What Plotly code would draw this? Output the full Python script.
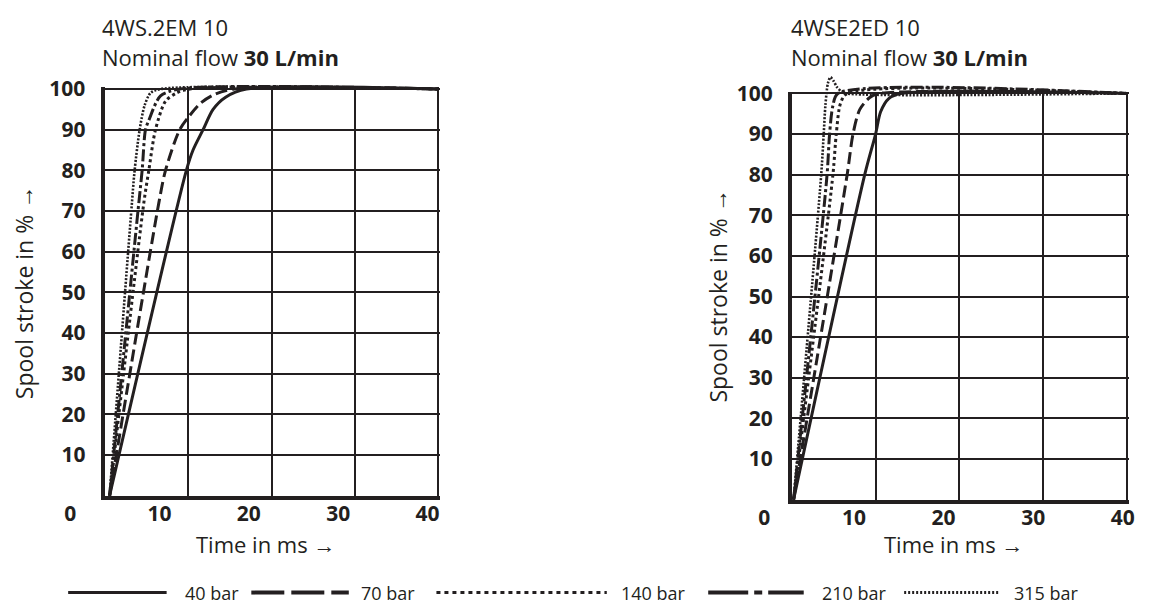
import plotly.graph_objects as go

W, H = 1176, 610
OFF = 8  # default page margin of the html body
INK = "#231f20"
FONT = "Open Sans"

series = ["40 bar", "70 bar", "140 bar", "210 bar", "315 bar"]
x_ticks = [0, 10, 20, 30, 40]
y_ticks = [10, 20, 30, 40, 50, 60, 70, 80, 90, 100]

# 4WS.2EM 10 (left chart): time in ms -> spool stroke in %
l40_t = [0.6, 9.8, 10.6, 11.8, 13.0, 14.5, 17.0, 40.0]
l40_y = [0, 80, 85, 90, 95, 98, 100, 100]
l70_t = [0.6, 6.5, 7.3, 9.0, 10.2, 11.5, 13.0, 15.5, 40.0]
l70_y = [0, 72, 80, 90, 93.5, 96.5, 98.5, 100, 100]
l140_t = [0.6, 4.7, 5.3, 6.1, 7.3, 8.6, 10.2, 40.0]
l140_y = [0, 72, 80, 90, 97, 99, 100, 100]
l210_t = [0.6, 4.0, 4.5, 4.9, 5.3, 6.7, 9.0, 40.0]
l210_y = [0, 70, 80, 90, 92.3, 98.3, 100, 100]
l315_t = [0.6, 3.2, 3.6, 4.2, 4.8, 5.5, 6.7, 40.0]
l315_y = [0, 70, 80, 90, 96, 99, 100, 100]

# 4WSE2ED 10 (right chart)
r40_t = [0.2, 8.7, 10.0, 10.6, 11.6, 13.0, 40.0]
r40_y = [0, 80, 90, 95.5, 98.8, 100, 100]
r70_t = [0.2, 6.6, 7.3, 8.1, 9.3, 10.5, 40.0]
r70_y = [0, 80, 90, 96, 99, 100, 100]
r140_t = [0.2, 4.9, 5.3, 5.8, 6.6, 40.0]
r140_y = [0, 80, 90, 97.5, 100, 100]
r210_t = [0.2, 4.2, 4.5, 4.9, 5.5, 40.0]
r210_y = [0, 80, 90, 97, 100, 100]
r315_t = [0.2, 3.5, 3.8, 4.0, 4.3, 4.6, 5.0, 5.4, 5.9, 6.5, 40.0]
r315_y = [0, 80, 90, 97, 102.5, 104, 103, 101.5, 100.5, 100, 100]

left_data = [(l40_t, l40_y), (l70_t, l70_y), (l140_t, l140_y), (l210_t, l210_y), (l315_t, l315_y)]
right_data = [(r40_t, r40_y), (r70_t, r70_y), (r140_t, r140_y), (r210_t, r210_y), (r315_t, r315_y)]

# ---- styles ----
chart_dash = ["solid", "12px,5px", "3px,3px", "12px,3px,3px,3px", "2px,1.6px"]
chart_width = [3, 3, 3, 3, 2.6]
legend_dash = ["solid", "33px,7px", "4px,4px", "40px,6px,8px,6px", "2px,2px"]
legend_width = [3, 4, 3, 4, 3]
legend_line_px = [(63, 163), (249, 348), (437, 610), (713, 810), (912, 1008)]
legend_text_px = [180, 358, 622, 827, 1022]
legend_y_px = 592

# chart geometry in target pixels (pixel of value 0, pixels per unit)
charts = [
    dict(x0=100, xp=8.475, y0=493, yp=4.155, lab0=65, lab1=428,
         title="4WS.2EM 10", tx=95, ytx=18, data=left_data),
    dict(x0=798, xp=8.5, y0=497, yp=4.15, lab0=770, lab1=1134,
         title="4WSE2ED 10", tx=795, ytx=722, data=right_data),
]


def px(x):
    return (x - OFF) / W


def py(y):
    return 1 - (y - OFF) / H


def xdom(x0, xp, r):
    return [px(x0 + r[0] * xp), px(x0 + r[1] * xp)]


def ydom(y0, yp, r):
    return [py(y0 - r[0] * yp), py(y0 - r[1] * yp)]


def sid(n):
    return "" if n == 1 else str(n)


fig = go.Figure()
layout = {}
annotations = []
shapes = []

GRID_X = [0, 40.25]
GRID_Y = [0, 100.45]
CURVE_X = [-1.0, 41.5]
CURVE_Y = [-2.0, 108.0]
TICKFONT = dict(family=FONT, size=21, color=INK, weight="bold")

n = 1
for i, c in enumerate(charts):
    g, cv, lb = sid(n), sid(n + 1), sid(n + 2)
    n += 3

    layout["xaxis" + g] = dict(domain=xdom(c["x0"], c["xp"], GRID_X), range=GRID_X, anchor="y" + g,
                               tickvals=x_ticks, showticklabels=False, ticks="",
                               showgrid=True, gridcolor=INK, gridwidth=1.6,
                               showline=True, linecolor=INK, linewidth=4, zeroline=False,
                               fixedrange=True)
    layout["yaxis" + g] = dict(domain=ydom(c["y0"], c["yp"], GRID_Y), range=GRID_Y, anchor="x" + g,
                               tickvals=y_ticks, ticktext=[str(v) for v in y_ticks],
                               tickfont=TICKFONT, ticks="", ticklabelstandoff=11,
                               showgrid=True, gridcolor=INK, gridwidth=1.6,
                               showline=True, linecolor=INK, linewidth=4, zeroline=False,
                               fixedrange=True)
    layout["xaxis" + cv] = dict(domain=xdom(c["x0"], c["xp"], CURVE_X), range=CURVE_X,
                                anchor="y" + cv, visible=False, fixedrange=True)
    layout["yaxis" + cv] = dict(domain=ydom(c["y0"], c["yp"], CURVE_Y), range=CURVE_Y,
                                anchor="x" + cv, visible=False, fixedrange=True)
    layout["xaxis" + lb] = dict(domain=[px(c["lab0"]), px(c["lab1"])], range=[0, 40],
                                anchor="y" + lb,
                                tickvals=x_ticks, ticktext=[str(v) for v in x_ticks],
                                tickfont=TICKFONT, ticks="", ticklabelstandoff=3,
                                showgrid=False, showline=False,
                                zeroline=False, fixedrange=True)
    layout["yaxis" + lb] = dict(domain=ydom(c["y0"], c["yp"], GRID_Y), range=GRID_Y,
                                anchor="x" + lb, visible=False, fixedrange=True)

    # invisible anchors so the grid and the tick-label subplots exist
    fig.add_trace(go.Scatter(x=x_ticks, y=[0] * len(x_ticks), xaxis="x" + g, yaxis="y" + g,
                             mode="markers", marker=dict(opacity=0), hoverinfo="skip",
                             showlegend=False))
    fig.add_trace(go.Scatter(x=x_ticks, y=[0] * len(x_ticks), xaxis="x" + lb, yaxis="y" + lb,
                             mode="markers", marker=dict(opacity=0), hoverinfo="skip",
                             showlegend=False))

    for k, (t, y) in enumerate(c["data"]):
        fig.add_trace(go.Scatter(x=t, y=y, xaxis="x" + cv, yaxis="y" + cv, mode="lines",
                                 name=series[k], showlegend=False,
                                 line=dict(color=INK, width=chart_width[k], dash=chart_dash[k],
                                           shape="spline", smoothing=0.8)))

    # titles
    annotations.append(dict(text=c["title"], xref="paper", yref="paper",
                            x=px(c["tx"]), y=py(14), xanchor="left", yanchor="middle",
                            showarrow=False, font=dict(family=FONT, size=22, color=INK)))
    annotations.append(dict(text="Nominal flow <b>30 L/min</b>", xref="paper", yref="paper",
                            x=px(c["tx"]), y=py(45), xanchor="left", yanchor="middle",
                            showarrow=False, font=dict(family=FONT, size=22, color=INK)))
    # axis titles
    xc = c["x0"] + 20 * c["xp"]
    annotations.append(dict(text="Time in ms \u2192", xref="paper", yref="paper",
                            x=px(xc - 6), y=py(542), xanchor="center", yanchor="middle",
                            showarrow=False, font=dict(family=FONT, size=22, color=INK)))
    yc = c["y0"] - 50 * c["yp"]
    annotations.append(dict(text="Spool stroke in % \u2192", xref="paper", yref="paper",
                            x=px(c["ytx"]), y=py(yc), xanchor="center", yanchor="middle",
                            textangle=-90, showarrow=False,
                            font=dict(family=FONT, size=23, color=INK)))

# legend drawn along the bottom
for k, name in enumerate(series):
    x0, x1 = legend_line_px[k]
    shapes.append(dict(type="line", xref="paper", yref="paper",
                       x0=px(x0), x1=px(x1), y0=py(legend_y_px), y1=py(legend_y_px),
                       line=dict(color=INK, width=legend_width[k], dash=legend_dash[k])))
    annotations.append(dict(text=name, xref="paper", yref="paper",
                            x=px(legend_text_px[k]), y=py(legend_y_px),
                            xanchor="left", yanchor="middle", showarrow=False,
                            font=dict(family=FONT, size=18, color=INK)))

fig.update_layout(
    width=W, height=H,
    margin=dict(l=0, r=0, t=0, b=0),
    paper_bgcolor="white", plot_bgcolor="rgba(0,0,0,0)",
    showlegend=False,
    annotations=annotations, shapes=shapes,
    font=dict(family=FONT, color=INK),
    **layout,
)

fig.write_html("out.html")
